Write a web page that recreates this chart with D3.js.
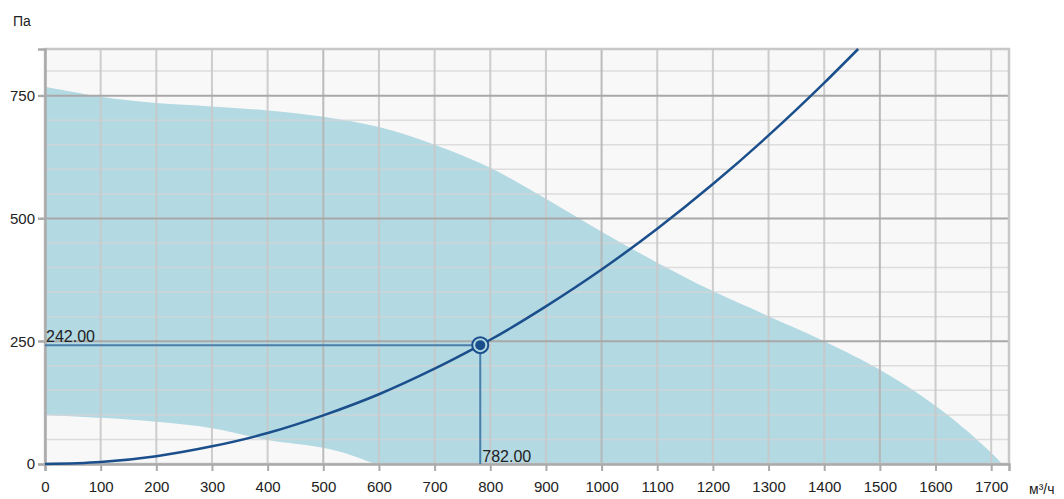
<!DOCTYPE html>
<html>
<head>
<meta charset="utf-8">
<script src="https://cdn.jsdelivr.net/npm/d3@7"></script>
<style>
  body { margin: 0; background: #fff; }
  svg text { font-family: "Liberation Sans", Arial, sans-serif; fill: #222; }
</style>
</head>
<body>
<div id="chart"></div>
<script>
const W = 1064, H = 499;
const M = { top: 49, right: 55, bottom: 35, left: 45 };

// Upper edge of the fan's working range (flow m³/h, pressure Pa).
const upperFlow = [0, 100, 200, 300, 400, 500, 600, 700, 800, 900, 1000, 1100, 1200, 1300, 1400, 1500, 1560, 1626, 1698, 1720];
const upperPa   = [768, 748, 735, 728, 720, 707, 686, 650, 603, 540, 473, 410, 352, 301, 250, 192, 150, 96, 25, 0];
// Lower edge of the working range.
const lowerFlow = [0, 100, 200, 300, 400, 500, 550, 593];
const lowerPa   = [100, 94, 86, 73, 49, 33, 18, 0];
// System (network) curve.
const sysFlow = [0, 100, 200, 300, 400, 500, 600, 700, 782, 800, 900, 1000, 1100, 1200, 1300, 1400, 1461];
const sysPa   = [0, 4, 16, 36, 63, 99, 142, 194, 242, 253, 321, 396, 479, 570, 669, 776, 845];
// Operating point.
const opFlow = 782, opPa = 242;
const xTicks = d3.range(0, 1701, 100);
const yTicks = [0, 250, 500, 750];
const yMinor = d3.range(50, 845, 50);

const innerW = W - M.left - M.right, innerH = H - M.top - M.bottom;
const svg = d3.select('#chart').append('svg').attr('width', W).attr('height', H);
const g = svg.append('g').attr('transform', `translate(${M.left},${M.top})`);

const x = d3.scaleLinear().domain([0, 1732]).range([0, innerW]);
const y = d3.scaleLinear().domain([0, 845]).range([innerH, 0]);

g.append('rect').attr('width', innerW).attr('height', innerH).attr('fill', '#f8f8f8');

// Working range: area under the upper edge, then the part under the lower edge painted back.
const edge = d3.line().x(d => x(d[0])).y(d => y(d[1])).curve(d3.curveCatmullRom.alpha(0.5));
const upper = upperFlow.map((f, i) => [f, upperPa[i]]);
const lower = lowerFlow.map((f, i) => [f, lowerPa[i]]);
g.append('path')
  .attr('d', edge(upper) + `L${x(0)},${y(0)}Z`)
  .attr('fill', '#b3d9e3');
g.append('path')
  .attr('d', edge(lower) + `L${x(0)},${y(0)}Z`)
  .attr('fill', '#f8f8f8');

// Grid on top of the fill.
g.append('g').selectAll('line').data(yMinor.filter(v => v % 250 !== 0)).join('line')
  .attr('x1', 0).attr('x2', innerW).attr('y1', d => y(d)).attr('y2', d => y(d))
  .attr('stroke', '#d4d4d4').attr('stroke-opacity', 0.75).attr('stroke-width', 1.5);
g.append('g').selectAll('line').data(xTicks.filter(v => v > 0)).join('line')
  .attr('y1', 0).attr('y2', innerH).attr('x1', d => x(d)).attr('x2', d => x(d))
  .attr('stroke', d => d % 500 === 0 ? '#b4b4b4' : '#c8c8c8').attr('stroke-opacity', 0.9).attr('stroke-width', 2);
g.append('g').selectAll('line').data(yTicks.filter(v => v > 0)).join('line')
  .attr('x1', -7).attr('x2', innerW).attr('y1', d => y(d)).attr('y2', d => y(d))
  .attr('stroke', '#a8a8a8').attr('stroke-width', 2);

// Frame.
g.append('rect').attr('width', innerW).attr('height', innerH)
  .attr('fill', 'none').attr('stroke', '#c8c8c8').attr('stroke-width', 2.5);

// Axes.
const xAxis = g.append('g').attr('transform', `translate(0,${innerH})`)
  .call(d3.axisBottom(x).tickValues(xTicks).tickSize(7).tickPadding(10).tickFormat(d3.format('d')));
const yAxis = g.append('g')
  .call(d3.axisLeft(y).tickValues(yTicks).tickSize(7).tickPadding(3).tickFormat(d3.format('d')));
[xAxis, yAxis].forEach(a => {
  a.select('.domain').attr('stroke', '#aaa').attr('stroke-width', 2.5);
  a.selectAll('.tick line').attr('stroke', '#aaa').attr('stroke-width', 2);
  a.selectAll('text').attr('font-size', 15).attr('fill', '#222');
});

// Operating point guides.
g.append('line').attr('x1', 0).attr('x2', x(opFlow)).attr('y1', y(opPa)).attr('y2', y(opPa))
  .attr('stroke', '#4a7eab').attr('stroke-width', 2);
g.append('line').attr('x1', x(opFlow)).attr('x2', x(opFlow)).attr('y1', y(opPa)).attr('y2', innerH)
  .attr('stroke', '#4a7eab').attr('stroke-width', 2);

// System curve.
g.append('path')
  .datum(sysFlow.map((f, i) => [f, sysPa[i]]))
  .attr('d', d3.line().x(d => x(d[0])).y(d => y(d[1])).curve(d3.curveMonotoneX))
  .attr('fill', 'none').attr('stroke', '#1b4f8c').attr('stroke-width', 2.5);

// Operating point marker.
g.append('circle').attr('cx', x(opFlow)).attr('cy', y(opPa)).attr('r', 8)
  .attr('fill', '#b3d9e3').attr('stroke', '#1b4f8c').attr('stroke-width', 2);
g.append('circle').attr('cx', x(opFlow)).attr('cy', y(opPa)).attr('r', 5).attr('fill', '#1b4f8c');

g.append('text').attr('x', 1).attr('y', y(opPa) - 3).attr('font-size', 16).text(opPa.toFixed(2));
g.append('text').attr('x', x(opFlow) + 2).attr('y', innerH - 2).attr('font-size', 16).text(opFlow.toFixed(2));

// Units.
svg.append('text').attr('x', 13).attr('y', 26).attr('font-size', 14).text('Па');
svg.append('text').attr('x', 1029).attr('y', 494).attr('font-size', 14).text('м³/ч');
</script>
</body>
</html>
